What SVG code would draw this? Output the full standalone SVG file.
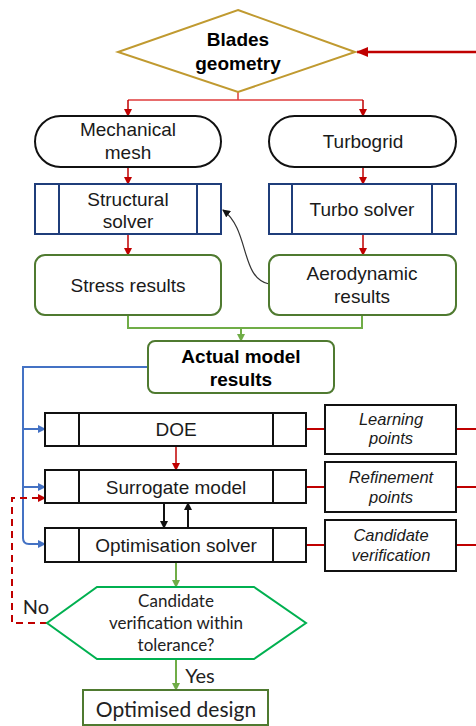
<svg xmlns="http://www.w3.org/2000/svg" width="476" height="726" viewBox="0 0 476 726">
<defs>
<style>
.t{font-family:"Liberation Sans",Arial,sans-serif;font-size:19px;fill:#1a1a1a;text-anchor:middle}
.b{font-weight:bold;fill:#000}
.i{font-style:italic;font-size:16.5px}
.c{font-family:Lato,"Open Sans",sans-serif;fill:#222;text-anchor:middle}
.blue{fill:#fff;stroke:#1f3d7a;stroke-width:2}
.blk{fill:#fff;stroke:#111;stroke-width:2}
.grn{fill:#fff;stroke:#4f7a30;stroke-width:2}
.red{fill:none;stroke:#c00000;stroke-width:1.5}
</style>
<marker id="ar" markerWidth="8" markerHeight="8" refX="7" refY="4" orient="auto" markerUnits="userSpaceOnUse"><path d="M0,0 L8,4 L0,8 z" fill="#c00000"/></marker>
<marker id="ag" markerWidth="8" markerHeight="8" refX="7" refY="4" orient="auto" markerUnits="userSpaceOnUse"><path d="M0,0 L8,4 L0,8 z" fill="#70ad47"/></marker>
<marker id="ab" markerWidth="8" markerHeight="8" refX="7" refY="4" orient="auto" markerUnits="userSpaceOnUse"><path d="M0,0 L8,4 L0,8 z" fill="#4472c4"/></marker>
<marker id="ak" markerWidth="8" markerHeight="8" refX="7" refY="4" orient="auto" markerUnits="userSpaceOnUse"><path d="M0,0 L8,4 L0,8 z" fill="#111"/></marker>
<marker id="ar2" markerWidth="12" markerHeight="10" refX="11" refY="5" orient="auto" markerUnits="userSpaceOnUse"><path d="M0,0 L12,5 L0,10 z" fill="#c00000"/></marker>
</defs>
<rect width="476" height="726" fill="#fff"/>

<g id="connectors">
<path d="M476,52 H357" stroke="#c00000" stroke-width="2.5" fill="none" marker-end="url(#ar2)"/>
<path d="M238,92 V100 M128,100 H363" stroke="#e03c3c" stroke-width="1.5" fill="none"/>
<path d="M128,100 V116" class="red" marker-end="url(#ar)"/>
<path d="M363,100 V116" class="red" marker-end="url(#ar)"/>
<path d="M128,167 V184" class="red" marker-end="url(#ar)"/>
<path d="M363,167 V184" class="red" marker-end="url(#ar)"/>
<path d="M128,234 V255" class="red" marker-end="url(#ar)"/>
<path d="M363,234 V255" class="red" marker-end="url(#ar)"/>
<path d="M269,284 C240,278 250,230 223,210" fill="none" stroke="#333" stroke-width="1.2" marker-end="url(#ak)"/>
<path d="M128,315 V328 H362 V315 M241,328 V340" fill="none" stroke="#70ad47" stroke-width="2"/>
<path d="M241,328 V341" fill="none" stroke="#70ad47" stroke-width="2" marker-end="url(#ag)"/>
<path d="M148,367 H23 V538 Q23,544 29,544 H45" fill="none" stroke="#4472c4" stroke-width="2" marker-end="url(#ab)"/>
<path d="M23,429 H45" fill="none" stroke="#4472c4" stroke-width="2" marker-end="url(#ab)"/>
<path d="M23,487 H45" fill="none" stroke="#4472c4" stroke-width="2" marker-end="url(#ab)"/>
<path d="M176,446 V470" class="red" stroke-width="2" marker-end="url(#ar)"/>
<path d="M164,503 V528" fill="none" stroke="#111" stroke-width="2" marker-end="url(#ak)"/>
<path d="M188,528 V503" fill="none" stroke="#111" stroke-width="2" marker-end="url(#ak)"/>
<path d="M306,429 H325 M456,429 H476 M306,487 H325 M456,487 H476 M306,545 H325 M456,545 H476" stroke="#c00000" stroke-width="2" fill="none"/>
<path d="M176,562 V587" fill="none" stroke="#70ad47" stroke-width="2" marker-end="url(#ag)"/>
<path d="M47,623 H12 V498 H45" fill="none" stroke="#c00000" stroke-width="2" stroke-dasharray="7,5" marker-end="url(#ar)"/>
<path d="M176,659 V690" fill="none" stroke="#70ad47" stroke-width="2" marker-end="url(#ag)"/>
</g>

<g id="blades-geometry">
<polygon points="238,10 355,52 238,92 118,52" fill="#fff" stroke="#c09a30" stroke-width="2"/>
<text class="t b" x="238" y="46" font-size="19.5">Blades</text>
<text class="t b" x="238" y="70" font-size="19.5">geometry</text>
</g>

<g id="mechanical-mesh">
<rect x="35" y="116" width="186" height="51" rx="25.5" fill="#fff" stroke="#111" stroke-width="2"/>
<text class="t" x="128" y="136">Mechanical</text>
<text class="t" x="128" y="159">mesh</text>
</g>

<g id="turbogrid">
<rect x="269" y="116" width="187" height="51" rx="25.5" fill="#fff" stroke="#111" stroke-width="2"/>
<text class="t" x="363" y="148">Turbogrid</text>
</g>

<g id="structural-solver">
<rect x="35" y="184" width="186" height="50" class="blue"/>
<path d="M59,184 V234 M197,184 V234" stroke="#1f3d7a" stroke-width="2"/>
<text class="t" x="128" y="206">Structural</text>
<text class="t" x="128" y="228">solver</text>
</g>

<g id="turbo-solver">
<rect x="269" y="184" width="187" height="50" class="blue"/>
<path d="M292,184 V234 M432,184 V234" stroke="#1f3d7a" stroke-width="2"/>
<text class="t" x="362" y="216">Turbo solver</text>
</g>

<g id="stress-results">
<rect x="35" y="255" width="186" height="60" rx="10" class="grn"/>
<text class="t" x="128" y="292">Stress results</text>
</g>

<g id="aerodynamic-results">
<rect x="269" y="255" width="187" height="60" rx="10" class="grn"/>
<text class="t" x="362" y="280">Aerodynamic</text>
<text class="t" x="362" y="303">results</text>
</g>

<g id="actual-model-results">
<rect x="148" y="341" width="186" height="52" rx="7" class="grn"/>
<text class="t b" x="241" y="363" font-size="19.5">Actual model</text>
<text class="t b" x="241" y="386" font-size="19.5">results</text>
</g>

<g id="doe">
<rect x="45" y="413" width="261" height="33" class="blk"/>
<path d="M79,413 V446 M273,413 V446" stroke="#111" stroke-width="2"/>
<text class="t" x="176" y="436">DOE</text>
</g>

<g id="surrogate-model">
<rect x="45" y="470" width="261" height="33" class="blk"/>
<path d="M79,470 V503 M273,470 V503" stroke="#111" stroke-width="2"/>
<text class="t" x="176" y="494">Surrogate model</text>
</g>

<g id="optimisation-solver">
<rect x="45" y="528" width="261" height="34" class="blk"/>
<path d="M79,528 V562 M273,528 V562" stroke="#111" stroke-width="2"/>
<text class="t" x="176" y="552">Optimisation solver</text>
</g>

<g id="learning-points">
<rect x="325" y="405" width="131" height="49" class="blk"/>
<text class="t i" x="391" y="425">Learning</text>
<text class="t i" x="391" y="444">points</text>
</g>

<g id="refinement-points">
<rect x="325" y="462" width="131" height="50" class="blk"/>
<text class="t i" x="391" y="483">Refinement</text>
<text class="t i" x="391" y="503">points</text>
</g>

<g id="candidate-verification">
<rect x="325" y="520" width="131" height="51" class="blk"/>
<text class="t i" x="391" y="541">Candidate</text>
<text class="t i" x="391" y="561">verification</text>
</g>

<g id="tolerance-check">
<polygon points="97,587 254,587 306,623 254,659 97,659 47,623" fill="#fff" stroke="#00b050" stroke-width="2"/>
<text class="c" x="176" y="607" font-size="17">Candidate</text>
<text class="c" x="176" y="629" font-size="17">verification within</text>
<text class="c" x="176" y="651" font-size="17">tolerance?</text>
</g>

<text class="c" x="36" y="614" font-size="20">No</text>
<text class="c" x="200" y="683" font-size="20">Yes</text>

<g id="optimised-design">
<rect x="83" y="690" width="185" height="35" class="grn"/>
<text class="c" x="176" y="717" font-size="21">Optimised design</text>
</g>
</svg>
